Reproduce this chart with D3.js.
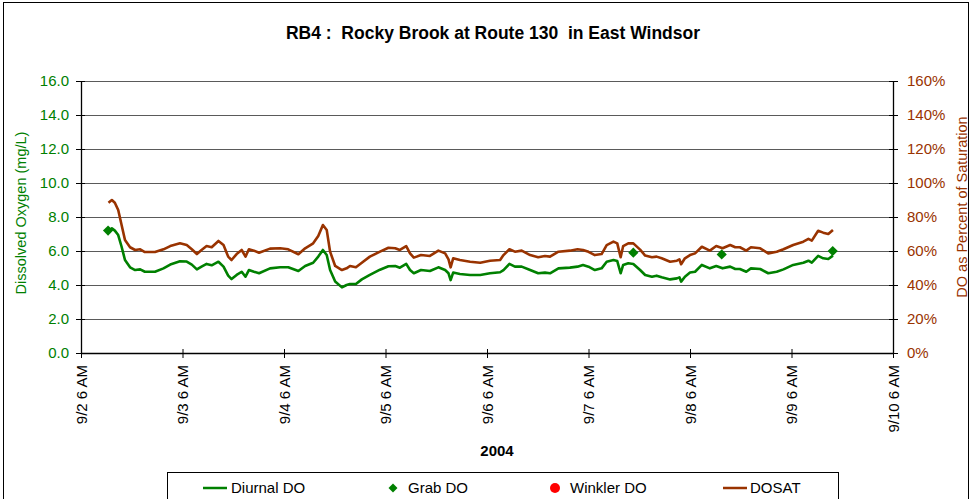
<!DOCTYPE html>
<html><head><meta charset="utf-8">
<script src="https://cdn.jsdelivr.net/npm/d3@7"></script>
<style>
body{margin:0;background:#fff;}
text{font-family:Arial,"Liberation Sans",sans-serif;}
</style></head>
<body>
<svg id="chart" width="971" height="499"></svg>
<script>
// hours after 2004-09-02 06:00
const hours = [6.5,7.3,8.0,8.8,9.6,10.4,11.6,12.8,14.0,15.1,17.5,19.5,21.1,23.4,25.0,26.2,27.4,28.5,29.7,30.9,32.5,33.7,34.8,35.6,36.8,38.0,38.9,39.7,40.9,42.1,44.7,47.1,49.0,51.4,53.0,54.9,56.1,57.2,58.1,58.9,60.1,61.7,62.8,63.6,65.0,66.4,68.3,70.7,72.7,74.3,75.4,76.9,77.8,78.7,80.4,82.5,84.5,86.1,86.9,87.4,88.0,89.6,92.0,94.4,96.7,99.1,99.9,101.3,102.6,104.2,106.2,108.1,109.7,110.9,112.9,115.6,117.4,118.7,120.0,121.5,123.1,124.3,125.9,126.8,127.6,128.2,129.4,130.6,132.2,133.4,135.0,136.1,137.3,139.3,140.9,141.5,141.9,142.8,144.0,145.2,146.8,148.7,150.2,151.7,153.5,154.7,155.8,157.3,158.4,160.6,162.5,164.5,166.1,168.4,170.8,172.0,172.8,174.3,175.5,176.7,177.8];
const diurnalDO = [7.19,7.33,7.2,6.94,6.25,5.47,5.04,4.88,4.92,4.78,4.78,4.98,5.2,5.4,5.38,5.2,4.92,5.08,5.24,5.16,5.37,5.08,4.55,4.35,4.59,4.78,4.49,4.88,4.78,4.69,4.98,5.04,5.04,4.82,5.12,5.31,5.67,6.06,5.76,4.88,4.2,3.86,4.0,4.06,4.06,4.33,4.59,4.9,5.1,5.12,5.02,5.24,4.88,4.69,4.88,4.82,5.04,4.88,4.69,4.29,4.73,4.65,4.59,4.59,4.69,4.75,4.88,5.24,5.08,5.08,4.88,4.69,4.73,4.69,4.98,5.02,5.08,5.18,5.08,4.88,4.98,5.37,5.47,5.41,4.69,5.18,5.28,5.24,4.88,4.59,4.49,4.55,4.45,4.33,4.39,4.45,4.2,4.49,4.73,4.78,5.18,4.98,5.12,4.98,5.08,4.94,4.94,4.78,4.98,4.94,4.69,4.78,4.92,5.18,5.31,5.43,5.31,5.71,5.57,5.53,5.73];
const dosat = [88.4,90.0,88.4,84.1,75.3,66.5,62.2,60.6,61.0,59.4,59.4,61.0,62.9,64.5,63.5,61.0,58.2,60.6,62.9,62.2,65.9,63.5,56.7,54.7,58.2,60.6,56.7,61.0,60.2,59.0,61.4,61.6,61.0,58.1,61.6,64.5,68.8,75.3,72.4,59.6,51.2,48.8,49.8,51.2,50.4,53.1,56.7,59.6,61.9,61.6,60.6,62.9,58.6,56.1,57.6,57.1,60.2,58.6,55.1,50.4,55.7,54.7,53.7,53.1,54.3,54.7,57.6,61.0,59.6,60.2,57.6,56.3,57.1,56.7,59.6,60.2,61.0,60.6,59.5,57.6,58.2,63.5,65.5,64.5,56.3,62.9,64.5,64.5,60.8,57.3,56.3,56.7,55.7,53.7,54.3,55.1,52.2,55.7,57.6,58.6,62.5,60.2,62.9,61.6,63.5,62.2,62.2,60.2,62.2,61.6,58.6,59.6,61.0,63.5,65.5,67.1,66.1,71.9,70.8,70.0,72.4];
const grabHours = [6.4,130.6,151.5,177.75];
const grabDO = [7.2,5.9,5.8,6.0];
const winklerHours = [];
const winklerDO = [];
const leftTicks = [0,2,4,6,8,10,12,14,16];
const rightTicks = [0,20,40,60,80,100,120,140,160];
const legendLabels = ["Diurnal DO","Grab DO","Winkler DO","DOSAT"];
const titleText = "RB4 :  Rocky Brook at Route 130  in East Windsor";

const GREEN = "#008000", BROWN = "#993300";
const start = new Date(2004, 8, 2, 6, 0);
const toDate = h => new Date(start.getTime() + h * 3600000);

const svg = d3.select("#chart");
const L = 81, R = 893, T = 81, B = 353;

// outer border
svg.append("rect").attr("x",3.5).attr("y",2.5).attr("width",965).attr("height",510)
  .attr("fill","none").attr("stroke","#000").attr("stroke-width",1);

const x = d3.scaleTime().domain([start, toDate(192)]).range([L, R]);
const y = d3.scaleLinear().domain([0,16]).range([B, T]);
const y2 = d3.scaleLinear().domain([0,160]).range([B, T]);

// gridlines
svg.append("g").selectAll("line").data(leftTicks.filter(d=>d>0)).join("line")
  .attr("x1",L).attr("x2",R).attr("y1",d=>y(d)+0.5).attr("y2",d=>y(d)+0.5)
  .attr("stroke","#5a5a5a").attr("stroke-width",1.2);

// left axis
const gl = svg.append("g").attr("transform",`translate(${L},0)`)
  .call(d3.axisLeft(y).tickValues(leftTicks).tickFormat(d3.format(".1f")).tickSizeInner(5).tickSizeOuter(0).tickPadding(7));
gl.select(".domain").attr("stroke","#000").attr("stroke-width",1.3);
gl.selectAll(".tick line").attr("stroke","#000").attr("x2",-5).attr("x1",4);
gl.selectAll(".tick text").attr("fill",GREEN).style("font-size","15px").attr("font-family","Arial, Liberation Sans");

// right axis
const gr = svg.append("g").attr("transform",`translate(${R},0)`)
  .call(d3.axisRight(y2).tickValues(rightTicks).tickFormat(d=>d+"%").tickSizeInner(5).tickSizeOuter(0).tickPadding(9));
gr.select(".domain").attr("stroke","#000").attr("stroke-width",1.3);
gr.selectAll(".tick line").attr("stroke","#000").attr("x1",-4).attr("x2",5);
gr.selectAll(".tick text").attr("fill",BROWN).style("font-size","15px").attr("font-family","Arial, Liberation Sans");

// bottom axis
const dayTicks = d3.range(0,9).map(i=>toDate(i*24));
const gb = svg.append("g").attr("transform",`translate(0,${B})`)
  .call(d3.axisBottom(x).tickValues(dayTicks).tickFormat(d3.timeFormat("%-m/%-d %-I %p")).tickSizeInner(5).tickSizeOuter(0));
gb.select(".domain").attr("stroke","#000").attr("stroke-width",1.3);
gb.selectAll(".tick line").attr("stroke","#000").attr("y1",-4).attr("y2",5);
gb.selectAll(".tick text").attr("fill","#000").style("font-size","15px").attr("font-family","Arial, Liberation Sans")
  .attr("transform","rotate(-90)").attr("text-anchor","end").attr("dy","0.35em").attr("x",-12).attr("y",0);

// lines
const lineDO = d3.line().x((d,i)=>x(toDate(hours[i]))).y(d=>y(d));
svg.append("path").datum(diurnalDO).attr("d",lineDO).attr("fill","none")
  .attr("stroke",GREEN).attr("stroke-width",2.6).attr("stroke-linejoin","round");
const lineSat = d3.line().x((d,i)=>x(toDate(hours[i]))).y(d=>y2(d));
svg.append("path").datum(dosat).attr("d",lineSat).attr("fill","none")
  .attr("stroke",BROWN).attr("stroke-width",2.6).attr("stroke-linejoin","round");

// grab diamonds
svg.append("g").selectAll("path").data(grabDO).join("path")
  .attr("d", d3.symbol().type(d3.symbolSquare).size(52))
  .attr("transform",(d,i)=>`translate(${x(toDate(grabHours[i]))},${y(d)}) rotate(45)`)
  .attr("fill",GREEN);
svg.append("g").selectAll("circle").data(winklerDO).join("circle")
  .attr("cx",(d,i)=>x(toDate(winklerHours[i]))).attr("cy",d=>y(d)).attr("r",4.5).attr("fill","#ff0000");

// title
svg.append("text").attr("x",493).attr("y",39).attr("text-anchor","middle")
  .style("font-size","17.5px").style("font-weight","bold").style("white-space","pre").text(titleText);

// axis titles
svg.append("text").attr("transform","translate(26,213) rotate(-90)").attr("text-anchor","middle")
  .attr("fill",GREEN).style("font-size","14.5px").text("Dissolved Oxygen (mg/L)");
svg.append("text").attr("transform","translate(967,207) rotate(-90)").attr("text-anchor","middle")
  .attr("fill",BROWN).style("font-size","14.5px").text("DO as Percent of Saturation");
svg.append("text").attr("x",497).attr("y",456).attr("text-anchor","middle")
  .style("font-size","15px").style("font-weight","bold").text("2004");

// legend
const lg = svg.append("g");
lg.append("rect").attr("x",167.5).attr("y",472.5).attr("width",671).attr("height",40)
  .attr("fill","#fff").attr("stroke","#000").attr("stroke-width",1);
const ly = 488;
lg.append("line").attr("x1",203).attr("x2",227).attr("y1",ly).attr("y2",ly).attr("stroke",GREEN).attr("stroke-width",2.5);
lg.append("text").attr("x",231).attr("y",ly+5).style("font-size","15px").text(legendLabels[0]);
lg.append("path").attr("d",d3.symbol().type(d3.symbolSquare).size(40)).attr("transform",`translate(393,${ly}) rotate(45)`).attr("fill",GREEN);
lg.append("text").attr("x",408).attr("y",ly+5).style("font-size","15px").text(legendLabels[1]);
lg.append("circle").attr("cx",555).attr("cy",ly).attr("r",5).attr("fill","#ff0000");
lg.append("text").attr("x",570).attr("y",ly+5).style("font-size","15px").text(legendLabels[2]);
lg.append("line").attr("x1",723).attr("x2",747).attr("y1",ly).attr("y2",ly).attr("stroke",BROWN).attr("stroke-width",2.5);
lg.append("text").attr("x",750).attr("y",ly+5).style("font-size","15px").text(legendLabels[3]);
</script>
</body></html>
